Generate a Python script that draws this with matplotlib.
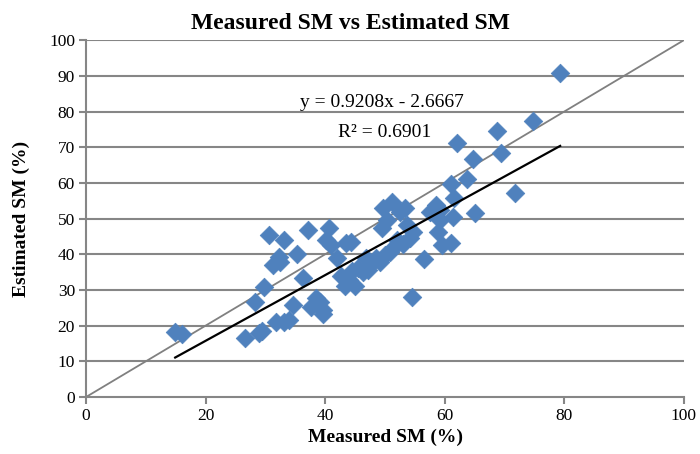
import matplotlib
matplotlib.use("Agg")
import matplotlib.pyplot as plt
import numpy as np

plt.rcParams['font.family'] = ['Liberation Serif', 'DejaVu Serif']

measured = [14.9, 16.1, 26.6, 28.9, 29.4, 28.3, 29.8, 30.6, 31.3, 32.4, 32.3, 33.1,
            31.8, 33.1, 33.9, 34.6, 35.3, 36.3, 37.1, 37.6, 38.5, 39.1, 39.6, 39.6,
            40.1, 40.6, 41.0, 42.0, 42.6, 43.3, 43.5, 44.0, 44.3, 44.5, 45.0, 45.5,
            46.3, 46.8, 47.2, 47.8, 48.5, 49.2, 49.5, 49.7, 50.0, 50.3, 50.8, 51.2,
            51.7, 52.0, 52.5, 53.0, 53.3, 53.7, 54.2, 54.5, 54.7, 56.5, 57.5, 58.5,
            59.2, 59.2, 58.9, 59.5, 61.0, 61.4, 61.0, 61.5, 62.0, 63.7, 64.7, 65.0,
            68.7, 69.4, 71.7, 74.7, 79.3]
estimated = [18.2, 17.6, 16.5, 17.9, 18.5, 26.6, 30.8, 45.4, 37.0, 37.8, 39.2, 44.0,
             21.0, 21.0, 21.6, 25.8, 40.0, 33.3, 46.8, 25.2, 27.7, 26.6, 24.4, 23.2,
             44.0, 47.3, 42.6, 38.9, 33.9, 31.1, 43.1, 32.8, 43.4, 35.3, 31.1, 36.1,
             35.0, 38.9, 35.6, 37.5, 38.9, 37.8, 47.3, 52.9, 39.8, 49.6, 40.6, 54.6,
             42.3, 44.0, 51.8, 42.9, 52.9, 48.2, 44.5, 28.0, 46.2, 38.7, 51.8, 53.8,
             52.4, 49.6, 46.2, 42.6, 43.1, 50.4, 59.7, 55.7, 71.1, 61.0, 66.7, 51.5,
             74.5, 68.3, 57.1, 77.3, 90.8]

slope, intercept = 0.9208, -2.6667
ticks_x = [0, 20, 40, 60, 80, 100]
ticks_y = [0, 10, 20, 30, 40, 50, 60, 70, 80, 90, 100]

fig = plt.figure(figsize=(7, 4.54), dpi=100)
ax = fig.add_axes([0.123, 0.1256, 0.854, 0.786])

grid_c = '#868686'
for yv in ticks_y[1:]:
    ax.axhline(yv, color=grid_c, lw=1.5, zorder=1)

ax.plot([0, 100], [0, 100], color='#808080', lw=1.3, zorder=2)
ax.scatter(measured, estimated, marker='D', s=90, color='#4F81BD',
           edgecolors='#4F81BD', linewidths=0.5, zorder=3)
xr = np.array([min(measured), max(measured)])
ax.plot(xr, slope * xr + intercept, color='black', lw=1.6, zorder=4)

ax.set_xlim(0, 100)
ax.set_ylim(0, 100)
ax.set_xticks(ticks_x)
ax.set_yticks(ticks_y)
ax.tick_params(axis='both', direction='out', length=5, width=1.5, color=grid_c,
               labelsize=12.5, pad=3)
for s in ['top', 'right']:
    ax.spines[s].set_visible(False)
for s in ['left', 'bottom']:
    ax.spines[s].set_color(grid_c)
    ax.spines[s].set_linewidth(1.5)

ax.set_xlabel('Measured SM (%)', fontsize=14, fontweight='bold', labelpad=3)
ax.set_ylabel('Estimated SM (%)', fontsize=14, fontweight='bold', labelpad=14)
fig.text(0.5, 0.948, 'Measured SM vs Estimated SM', ha='center', va='center',
         fontsize=17, fontweight='bold')

ax.text(49.5, 82.5, 'y = 0.9208x - 2.6667', ha='center', va='center', fontsize=14)
ax.text(50, 74.2, 'R² = 0.6901', ha='center', va='center', fontsize=14)

fig.savefig('out.png', dpi=100)
